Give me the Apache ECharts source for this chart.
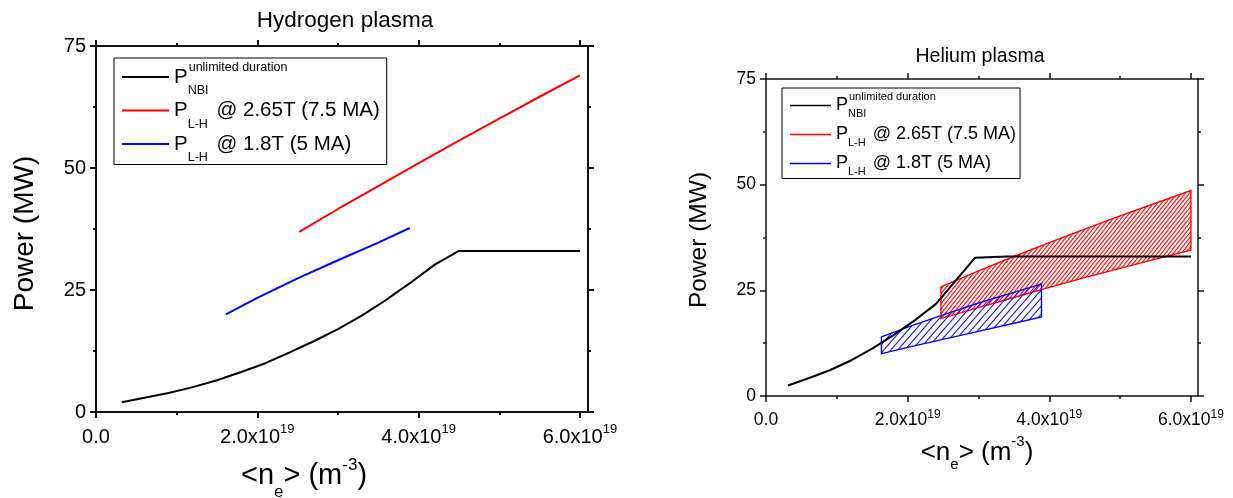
<!DOCTYPE html>
<html><head><meta charset="utf-8">
<script src="https://cdn.jsdelivr.net/npm/echarts@6/dist/echarts.min.js"></script>
<style>html,body{margin:0;padding:0;background:#fff}#c{width:1233px;height:498px}</style>
</head><body><div id="c"></div>
<script>
// x values in units of 1e19 m^-3, y values in MW
const xMajorTicks = [0, 2, 4, 6];
const xMinorTicks = [1, 3, 5];

// Hydrogen plasma
const hNbiX   = [0.32, 0.6, 0.9, 1.2, 1.5, 1.8, 2.1, 2.4, 2.7, 3.0, 3.3, 3.6, 3.9, 4.2, 4.5, 6.0];
const hNbiY   = [2.0, 2.9, 3.9, 5.1, 6.5, 8.2, 10.0, 12.2, 14.5, 17.0, 19.8, 23.0, 26.5, 30.2, 33.0, 33.0];
const hLh265X = [2.52, 3.0, 3.5, 4.0, 4.5, 5.0, 5.5, 6.0];
const hLh265Y = [36.9, 41.6, 46.3, 51.0, 55.6, 60.1, 64.6, 69.0];
const hLh18X  = [1.61, 2.0, 2.5, 3.0, 3.5, 3.89];
const hLh18Y  = [20.0, 23.4, 27.4, 31.1, 34.7, 37.7];

// Helium plasma
const heNbiX = [0.31, 0.6, 0.9, 1.2, 1.5, 1.8, 2.1, 2.4, 2.95, 3.4, 6.0];
const heNbiY = [2.5, 4.2, 6.1, 8.4, 11.2, 14.4, 17.9, 21.8, 32.7, 33.0, 33.0];
const heLh265X   = [2.47, 3.0, 3.5, 4.0, 4.5, 5.0, 5.5, 6.0];
const heLh265Top = [25.8, 29.6, 33.0, 36.3, 39.5, 42.6, 45.6, 48.6];
const heLh265Bot = [18.3, 20.9, 23.3, 25.7, 28.0, 30.2, 32.4, 34.5];
const heLh18X    = [1.63, 2.0, 2.5, 3.0, 3.5, 3.89];
const heLh18Top  = [14.0, 16.3, 19.2, 22.0, 24.5, 26.5];
const heLh18Bot  = [10.0, 11.5, 13.4, 15.3, 17.2, 18.7];

const FF = '"Liberation Sans", Arial, Helvetica, sans-serif';
const zip = (xs, ys) => xs.map((x, i) => [x, ys[i]]);

function hatch(color, w, h, lw) {
  const c = document.createElement('canvas'); c.width = w; c.height = h;
  const g = c.getContext('2d'); g.strokeStyle = color; g.lineWidth = lw;
  for (const dx of [-w, 0, w]) { g.beginPath(); g.moveTo(dx - w, 2 * h); g.lineTo(dx + 2 * w, -h); g.stroke(); }
  return c;
}
const redHatch = hatch('#ff1010', 4, 5, 1.1);
const blueHatch = hatch('#1010ff', 7, 8, 1.1);

function band(name, xs, top, bot, color, pattern, xi, yi) {
  return {
    type: 'custom', name, xAxisIndex: xi, yAxisIndex: yi, z: 2,
    itemStyle: { color },
    data: [[xs[0], bot[0]]],
    renderItem(params, api) {
      const pts = [];
      xs.forEach((x, i) => pts.push(api.coord([x, top[i]])));
      for (let i = xs.length - 1; i >= 0; i--) pts.push(api.coord([xs[i], bot[i]]));
      return { type: 'polygon', shape: { points: pts },
        style: { fill: { image: pattern, repeat: 'repeat' }, stroke: color, lineWidth: 1.4 } };
    }
  };
}

function xAxes(gi, lw, fs, supFs, margin, mainLH, supH, nameCfg) {
  const line = { color: '#111', width: lw };
  const base = { type: 'value', gridIndex: gi, min: 0, max: 6.1, splitLine: { show: false } };
  return [
    Object.assign({}, base, {
      position: 'bottom',
      axisLine: { show: true, onZero: false, lineStyle: line },
      axisTick: { show: true, inside: false, length: 6, lineStyle: line, customValues: xMajorTicks },
      axisLabel: { show: true, margin, customValues: xMajorTicks,
        formatter: v => v === 0 ? '{m|0.0}' : '{m|' + v.toFixed(1) + 'x10}{s|19}',
        rich: { m: { fontFamily: FF, fontSize: fs, color: '#000', lineHeight: mainLH, verticalAlign: 'middle' },
                s: { fontFamily: FF, fontSize: supFs, color: '#000', lineHeight: 4, height: supH, verticalAlign: 'top' } } },
      name: nameCfg.name, nameLocation: 'middle', nameGap: nameCfg.gap,
      nameTextStyle: { padding: nameCfg.padding, rich: nameCfg.rich }
    }),
    Object.assign({}, base, {
      position: 'bottom',
      axisLine: { show: false, onZero: false },
      axisTick: { show: true, inside: false, length: 3, lineStyle: line, customValues: xMinorTicks },
      axisLabel: { show: false }
    }),
    Object.assign({}, base, {
      position: 'top',
      axisLine: { show: true, onZero: false, lineStyle: line },
      axisTick: { show: true, inside: false, length: 6, lineStyle: line, customValues: xMajorTicks },
      axisLabel: { show: false }
    }),
    Object.assign({}, base, {
      position: 'top',
      axisLine: { show: false, onZero: false },
      axisTick: { show: true, inside: false, length: 3, lineStyle: line, customValues: xMinorTicks },
      axisLabel: { show: false }
    })
  ];
}

function yAxes(gi, lw, fs, title, titleFs, gap, pad) {
  const line = { color: '#111', width: lw };
  const base = { type: 'value', gridIndex: gi, min: 0, max: 75, interval: 25, splitLine: { show: false },
    axisLine: { show: true, onZero: false, lineStyle: line },
    axisTick: { show: true, inside: false, length: 6, lineStyle: line },
    minorTick: { show: true, splitNumber: 2, length: 3, lineStyle: line } };
  return [
    Object.assign({}, base, { position: 'left',
      axisLabel: { show: true, margin: 10, fontFamily: FF, fontSize: fs, color: '#000' },
      name: title, nameLocation: 'middle', nameGap: gap,
      nameTextStyle: { fontFamily: FF, fontSize: titleFs, color: '#000', padding: pad } }),
    Object.assign({}, base, { position: 'right', axisLabel: { show: false } })
  ];
}

const legendNames = {
  H_NBI: '{P|P}{subw|NBI}{sup|unlimited duration}',
  H_LH265: '{P|P}{sub|L-H}{t| @ 2.65T (7.5 MA)}',
  H_LH18: '{P|P}{sub|L-H}{t| @ 1.8T (5 MA)}',
  He_NBI: '{P|P}{subw|NBI}{sup|unlimited duration}',
  He_LH265: '{P|P}{sub|L-H}{t| @ 2.65T (7.5 MA)}',
  He_LH18: '{P|P}{sub|L-H}{t| @ 1.8T (5 MA)}'
};
function legendRich(fs, lh, sfs, subH, supH, tpad) {
  const c = { fontFamily: FF, color: '#000' };
  return {
    P: Object.assign({ fontSize: fs, lineHeight: lh, verticalAlign: 'middle' }, c),
    t: Object.assign({ fontSize: fs, lineHeight: lh, verticalAlign: 'middle', padding: [0, 0, 0, tpad] }, c),
    sub: Object.assign({ fontSize: sfs, lineHeight: 2, height: subH, verticalAlign: 'bottom' }, c),
    subw: Object.assign({ fontSize: sfs, lineHeight: 2, height: subH, verticalAlign: 'bottom', width: 1 }, c),
    sup: Object.assign({ fontSize: sfs, lineHeight: 2, height: supH, verticalAlign: 'top' }, c)
  };
}

const lineS = (name, xs, ys, color, xi, yi, w) => ({
  type: 'line', name, xAxisIndex: xi, yAxisIndex: yi, data: zip(xs, ys), z: 3,
  symbol: 'none', showSymbol: false, smooth: false,
  lineStyle: { color, width: w }, itemStyle: { color }
});

const chart = echarts.init(document.getElementById('c'), null, { renderer: 'canvas' });
chart.setOption({
  animation: false,
  backgroundColor: '#fff',
  grid: [
    { left: 96, top: 46, width: 492, height: 366, outerBoundsMode: 'none', containLabel: false },
    { left: 766, top: 79, width: 432, height: 317, outerBoundsMode: 'none', containLabel: false }
  ],
  xAxis: [].concat(
    xAxes(0, 2, 20, 13, 12, 26, 11, {
      name: '{m|<n}{b|e}{m|> (m}{p|-3}{m|)}', gap: 44, padding: [0, 76, 0, 0],
      rich: { m: { fontFamily: FF, fontSize: 29, color: '#000', lineHeight: 40, verticalAlign: 'middle' },
              b: { fontFamily: FF, fontSize: 17, color: '#000', lineHeight: 2, height: 7, verticalAlign: 'bottom' },
              p: { fontFamily: FF, fontSize: 17, color: '#000', lineHeight: 2, height: 18, verticalAlign: 'top' } } }),
    xAxes(1, 1.5, 17.5, 12, 13, 22, 12, {
      name: '{m|<n}{b|e}{m|> (m}{p|-3}{m|)}', gap: 35, padding: [0, 10, 0, 0],
      rich: { m: { fontFamily: FF, fontSize: 26, color: '#000', lineHeight: 34, verticalAlign: 'middle' },
              b: { fontFamily: FF, fontSize: 15, color: '#000', lineHeight: 2, height: 11, verticalAlign: 'bottom' },
              p: { fontFamily: FF, fontSize: 15, color: '#000', lineHeight: 2, height: 11, verticalAlign: 'top' } } })
  ),
  yAxis: [].concat(
    yAxes(0, 2, 20, 'Power (MW)', 28, 57, [0, 9, 0, 0]),
    yAxes(1, 1.5, 17.5, 'Power (MW)', 24.5, 54, [0, 5, 0, 0])
  ),
  legend: [
    { orient: 'vertical', left: 114, top: 58, padding: [3, 7, 0, 8], itemGap: -3,
      borderColor: '#000', borderWidth: 1, backgroundColor: '#fff',
      itemWidth: 47, itemHeight: 2, icon: 'rect', selectedMode: false,
      data: ['H_NBI', 'H_LH265', 'H_LH18'],
      formatter: n => legendNames[n],
      textStyle: { backgroundColor: 'rgba(255,255,255,0)', rich: legendRich(20.5, 32, 12.5, 4, 14, 3) } },
    { orient: 'vertical', left: 782, top: 88, padding: [3, 4, 1, 8], itemGap: 1,
      borderColor: '#000', borderWidth: 1, backgroundColor: '#fff',
      itemWidth: 41, itemHeight: 1.5, icon: 'rect', selectedMode: false,
      data: ['He_NBI', 'He_LH265', 'He_LH18'],
      formatter: n => legendNames[n],
      textStyle: { backgroundColor: 'rgba(255,255,255,0)', rich: legendRich(18, 28, 11, 11, 10, 2) } }
  ],
  graphic: [
    { type: 'text', x: 345, y: 21, style: { text: 'Hydrogen plasma', font: '22.5px ' + FF, fill: '#000', textAlign: 'center', textVerticalAlign: 'middle' } },
    { type: 'text', x: 980, y: 57, style: { text: 'Helium plasma', font: '19.5px ' + FF, fill: '#000', textAlign: 'center', textVerticalAlign: 'middle' } }
  ],
  series: [
    lineS('H_NBI', hNbiX, hNbiY, '#000', 0, 0, 2),
    lineS('H_LH265', hLh265X, hLh265Y, '#ff0000', 0, 0, 2),
    lineS('H_LH18', hLh18X, hLh18Y, '#0000ff', 0, 0, 2),
    band('He_LH265', heLh265X, heLh265Top, heLh265Bot, '#ff0000', redHatch, 4, 2),
    band('He_LH18', heLh18X, heLh18Top, heLh18Bot, '#0000ff', blueHatch, 4, 2),
    lineS('He_NBI', heNbiX, heNbiY, '#000', 4, 2, 2)
  ]
});
</script></body></html>
